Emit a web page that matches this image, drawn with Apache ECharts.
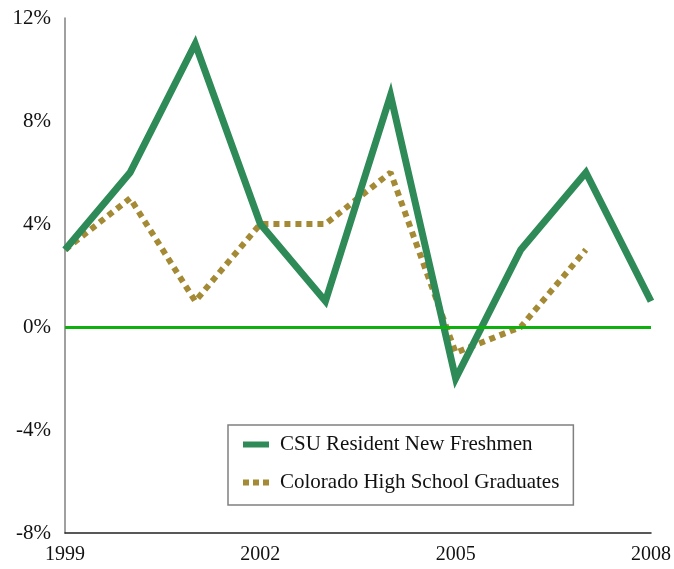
<!DOCTYPE html>
<html><head><meta charset="utf-8">
<script src="https://cdn.jsdelivr.net/npm/echarts@6/dist/echarts.min.js"></script>
<style>html,body{margin:0;padding:0;background:#fff}#c{width:674px;height:569px}</style>
</head><body><div id="c"></div>
<script>
var years = ['1999','2000','2001','2002','2003','2004','2005','2006','2007','2008'];
var csuFreshmen = [3, 6, 11, 4, 1, 9, -2, 3, 6, 1];
var coloradoHS = [3, 5, 1, 4, 4, 6, -1, 0, 3, null];
var seriesNames = ['CSU Resident New Freshmen', 'Colorado High School Graduates'];
var yTicks = [-8, -4, 0, 4, 8, 12];

var chart = echarts.init(document.getElementById('c'), null, {renderer:'canvas'});
var font = '"Liberation Serif", "Times New Roman", serif';
chart.setOption({
  animation: false,
  grid: {left: 65, right: 19, top: 18, bottom: 36, containLabel: false},
  legend: {
    orient: 'vertical', left: 228, top: 425,
    padding: [9, 14, 12, 15], itemGap: 17,
    borderColor: '#808080', borderWidth: 1.5, backgroundColor: '#fff',
    itemWidth: 26, itemHeight: 22,
    textStyle: {fontFamily: font, fontSize: 21, color: '#111', padding: [0, 0, 0, 6]},
    data: [
      {name: seriesNames[0], icon: 'path://M0,0h26v6h-26z', itemStyle: {color: '#2e8b57'}},
      {name: seriesNames[1], icon: 'path://M0,0h6v6h-6zM10,0h6v6h-6zM20,0h6v6h-6z', itemStyle: {color: '#a48a34'}}
    ]
  },
  xAxis: {
    type: 'category', data: years, boundaryGap: false,
    axisLine: {onZero: false, lineStyle: {color: '#222', width: 1.5}},
    axisTick: {show: false},
    axisLabel: {fontFamily: font, fontSize: 20, color: '#111', margin: 12,
      interval: function(i){ return i % 3 === 0; }},
    splitLine: {show: false}
  },
  yAxis: {
    type: 'value', min: yTicks[0], max: yTicks[yTicks.length-1], interval: 4,
    axisLine: {show: true, lineStyle: {color: '#808080', width: 1.5}},
    axisTick: {show: false},
    axisLabel: {fontFamily: font, fontSize: 21, color: '#111', margin: 14,
      formatter: function(v){ return v + '%'; }},
    splitLine: {show: false}
  },
  series: [
    {
      name: seriesNames[0], type: 'line', data: csuFreshmen, symbol: 'none',
      lineStyle: {color: '#2e8b57', width: 7, join: 'miter'},
      itemStyle: {color: '#2e8b57'},
      z: 3,
      markLine: {
        silent: true, symbol: 'none', label: {show: false},
        lineStyle: {color: '#0db00d', width: 3, type: 'solid'},
        data: [{yAxis: 0}]
      }
    },
    {
      name: seriesNames[1], type: 'line', data: coloradoHS, symbol: 'none',
      lineStyle: {color: '#a48a34', width: 6, type: [6, 5]},
      itemStyle: {color: '#a48a34'},
      z: 2
    }
  ]
});
</script></body></html>
